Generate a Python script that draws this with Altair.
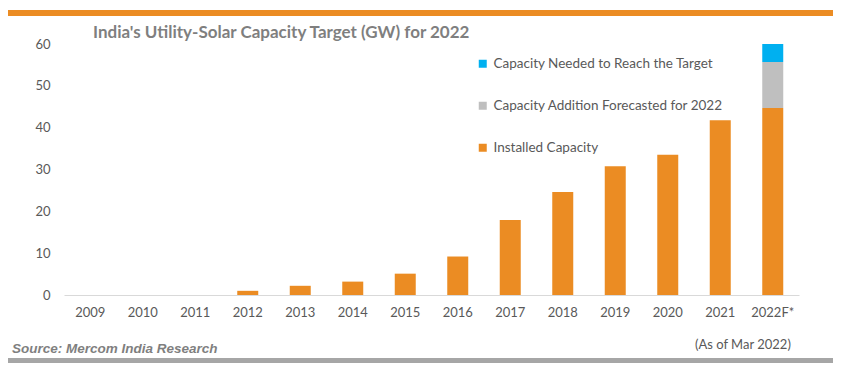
import altair as alt
import pandas as pd

years = ["2009", "2010", "2011", "2012", "2013", "2014", "2015", "2016",
         "2017", "2018", "2019", "2020", "2021", "2022F*"]
installed = [0, 0, 0, 1.0, 2.2, 3.2, 5.1, 9.2, 17.9, 24.6, 30.8, 33.5, 41.8, 44.7]
forecast_add = [0, 0, 0, 0, 0, 0, 0, 0, 0, 0, 0, 0, 0, 11.0]
needed = [0, 0, 0, 0, 0, 0, 0, 0, 0, 0, 0, 0, 0, 4.3]

series_names = ["Capacity Needed to Reach the Target",
                "Capacity Addition Forecasted for 2022",
                "Installed Capacity"]
series_colors = ["#00B0F0", "#BFBFBF", "#EB8C23"]

rows = []
for i, y in enumerate(years):
    rows.append({"year": y, "series": series_names[2], "value": installed[i], "ord": 0})
    rows.append({"year": y, "series": series_names[1], "value": forecast_add[i], "ord": 1})
    rows.append({"year": y, "series": series_names[0], "value": needed[i], "ord": 2})
df = pd.DataFrame(rows)

gray_txt = "#595959"

bars = alt.Chart(df).mark_bar().encode(
    x=alt.X("year:N", sort=years, title=None,
            scale=alt.Scale(paddingInner=0.6, paddingOuter=0.3),
            axis=alt.Axis(labelAngle=0, labelColor=gray_txt, labelFontSize=13,
                          labelFont="Lato", ticks=False, domainColor="#D9D9D9",
                          domainWidth=1, labelPadding=11, grid=False)),
    y=alt.Y("value:Q", stack="zero", title=None,
            scale=alt.Scale(domain=[0, 60], nice=False),
            axis=alt.Axis(values=[0, 10, 20, 30, 40, 50, 60], domain=False,
                          ticks=False, grid=False, labelColor=gray_txt,
                          labelFontSize=13, labelFont="Lato", labelPadding=14)),
    color=alt.Color("series:N",
                    scale=alt.Scale(domain=series_names, range=series_colors),
                    legend=alt.Legend(orient="none", legendX=412, legendY=13,
                                      title=None, symbolType="square",
                                      symbolSize=64, symbolStrokeWidth=0,
                                      labelFontSize=13.5, labelFont="Lato",
                                      labelColor=gray_txt, rowPadding=27,
                                      labelOffset=4, padding=0, labelLimit=0)),
    order=alt.Order("ord:Q", sort="ascending"),
)

title = alt.Chart(pd.DataFrame({"t": ["India's Utility-Solar Capacity Target (GW) for 2022"]})).mark_text(
    align="left", baseline="middle", font="Lato", fontSize=17, fontWeight="bold",
    color="#7F7F7F"
).encode(x=alt.value(29), y=alt.value(-11), text="t:N")

source = alt.Chart(pd.DataFrame({"t": ["Source: Mercom India Research"]})).mark_text(
    align="left", baseline="middle", font="Liberation Sans", fontSize=13.5,
    fontWeight="bold", fontStyle="italic", color="#7F7F7F"
).encode(x=alt.value(-52), y=alt.value(305), text="t:N")

asof = alt.Chart(pd.DataFrame({"t": ["(As of Mar 2022)"]})).mark_text(
    align="left", baseline="middle", font="Lato", fontSize=13, color=gray_txt
).encode(x=alt.value(631), y=alt.value(301), text="t:N")

top_band = alt.Chart(pd.DataFrame({"a": [0]})).mark_rule(
    color="#EB8C23", strokeWidth=6, strokeCap="butt"
).encode(x=alt.value(-57), x2=alt.value(769), y=alt.value(-31))

bottom_band = alt.Chart(pd.DataFrame({"a": [0]})).mark_rule(
    color="#A6A6A6", strokeWidth=5, strokeCap="butt"
).encode(x=alt.value(-57), x2=alt.value(769), y=alt.value(316.5))

chart = alt.layer(top_band, bottom_band, bars, title, source, asof).properties(
    width=735, height=251,
    autosize=alt.AutoSizeParams(type="none"),
    padding={"left": 56, "top": 36, "right": 40, "bottom": 71},
    background="white",
).configure_view(stroke=None)

chart.save("out.html", embed_options={"renderer": "svg", "actions": False})
